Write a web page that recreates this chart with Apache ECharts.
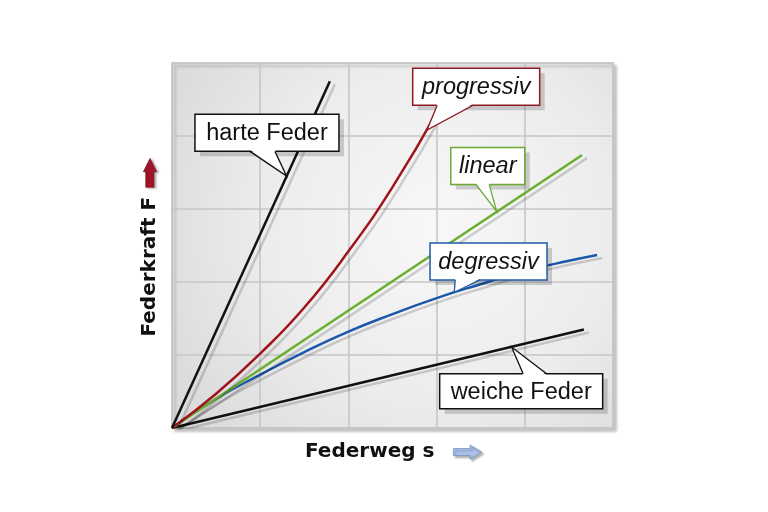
<!DOCTYPE html>
<html>
<head>
<meta charset="utf-8">
<script src="https://cdn.jsdelivr.net/npm/echarts@6/dist/echarts.min.js"></script>
<style>
  html, body { margin: 0; padding: 0; background: #fff; }
  #chart { width: 768px; height: 512px; }
</style>
</head>
<body>
<div id="chart"></div>
<script>
// Federkennlinien: Federkraft F über Federweg s (Einheiten = Rasterfelder)
var hardSpring = [[0, 0], [1.79, 4.75]];
var softSpring = [[0, 0], [4.67, 1.35]];
var linearSpring = [[0, 0], [4.65, 3.74]];
var progressiveSpring = [[0, 0], [0.5, 0.47], [1, 1.02], [1.5, 1.65], [2, 2.42], [2.5, 3.3], [3.01, 4.34]];
var degressiveSpring = [[0, 0], [0.5, 0.40], [1, 0.73], [1.5, 1.04], [2, 1.32], [2.5, 1.56], [3, 1.78],
    [3.5, 1.97], [4, 2.15], [4.5, 2.29], [4.82, 2.37]];

var calloutNames = ['harte Feder', 'progressiv', 'linear', 'degressiv', 'weiche Feder'];
var calloutTips = [[1.30, 3.45], [2.89, 4.08], [3.68, 2.97], [3.20, 1.86], [3.85, 1.11]];

// Layout der Beschriftungskästen (Pixel relativ zur Spitze)
var calloutLayout = [
    { dx: -19.7, dy: -43.3, w: 144, h: 37, base: [-36.7, -11.7], color: '#111', italic: false },
    { dx: 49.3, dy: -43.4, w: 127, h: 37, base: [10.3, 46.3], color: '#8e1a22', italic: true },
    { dx: -8.8, dy: -45.3, w: 74, h: 37, base: [-20.7, -7.4], color: '#6aaa30', italic: true },
    { dx: 34.3, dy: -30.8, w: 117, h: 37, base: [1, 26], color: '#1f5aa8', italic: true },
    { dx: 9.6, dy: 44.2, w: 163, h: 35, base: [11.6, 35], color: '#111', italic: false }
];

var myChart = echarts.init(document.getElementById('chart'));

function springLine(name, data, color) {
    return {
        name: name,
        type: 'line',
        data: data,
        smooth: data.length > 2,
        symbol: 'none',
        silent: true,
        lineStyle: {
            color: color,
            width: 2.5,
            shadowColor: 'rgba(0,0,0,0.17)',
            shadowBlur: 0,
            shadowOffsetX: 5,
            shadowOffsetY: 3
        }
    };
}

function renderCallout(params, api) {
    var i = api.value(2);
    var L = calloutLayout[i];
    var tip = api.coord([api.value(0), api.value(1)]);
    var cx = tip[0] + L.dx, cy = tip[1] + L.dy;
    var edge = L.dy < 0 ? cy + L.h / 2 : cy - L.h / 2;
    var inward = L.dy < 0 ? -1.5 : 1.5;
    var b1 = [tip[0] + L.base[0], edge], b2 = [tip[0] + L.base[1], edge];
    var box = { x: cx - L.w / 2, y: cy - L.h / 2, width: L.w, height: L.h };
    return {
        type: 'group',
        children: [
            {
                type: 'rect',
                shape: { x: box.x + 5, y: box.y + 5, width: box.width, height: box.height },
                style: { fill: 'rgba(0,0,0,0.17)' }
            },
            {
                type: 'rect',
                shape: box,
                style: { fill: '#fff', stroke: L.color, lineWidth: 1.5 }
            },
            {
                type: 'polygon',
                shape: { points: [[b1[0], edge + inward], tip, [b2[0], edge + inward]] },
                style: { fill: '#fff', stroke: null }
            },
            {
                type: 'polyline',
                shape: { points: [b1, tip, b2] },
                style: { fill: null, stroke: L.color, lineWidth: 1.3 }
            },
            {
                type: 'text',
                x: cx, y: cy + 1,
                style: {
                    text: calloutNames[i],
                    fontFamily: 'Liberation Sans, Arial, sans-serif',
                    fontSize: 23.5,
                    fontStyle: L.italic ? 'italic' : 'normal',
                    fill: '#111',
                    align: 'center',
                    verticalAlign: 'middle'
                }
            }
        ]
    };
}

option = {
    backgroundColor: '#fff',
    animation: false,
    grid: {
        left: 172,
        top: 63,
        width: 441,
        height: 365,
        show: true,
        borderColor: '#c2c2c2',
        borderWidth: 1.5,
        shadowColor: 'rgba(0,0,0,0.22)',
        shadowBlur: 3,
        shadowOffsetX: 3,
        shadowOffsetY: 3,
        backgroundColor: {
            type: 'radial', x: 0.6, y: 0.45, r: 0.8,
            colorStops: [
                { offset: 0, color: '#f8f8f8' },
                { offset: 0.6, color: '#ececec' },
                { offset: 1, color: '#dcdcdc' }
            ]
        }
    },
    xAxis: {
        type: 'value',
        min: 0, max: 5, interval: 1,
        axisLine: { show: false },
        axisTick: { show: false },
        axisLabel: { show: false },
        splitLine: { lineStyle: { color: '#c6c6c6', width: 1.6 } }
    },
    yAxis: {
        type: 'value',
        min: 0, max: 5, interval: 1,
        axisLine: { show: false },
        axisTick: { show: false },
        axisLabel: { show: false },
        splitLine: { lineStyle: { color: '#c6c6c6', width: 1.6 } }
    },
    graphic: [
        {
            type: 'text', x: 150, y: 266.7, rotation: Math.PI / 2,
            style: {
                text: 'Federkraft F', fontFamily: 'DejaVu Sans', fontWeight: 'bold', fontSize: 20,
                fill: '#111', align: 'center', verticalAlign: 'middle'
            }
        },
        {
            type: 'polygon',
            shape: { points: [[150, 158.3], [156.7, 171.7], [154, 171.7], [154, 187.3], [145.7, 187.3], [145.7, 171.7], [143.3, 171.7]] },
            style: {
                fill: '#a3162a', stroke: '#7a0f1c', lineWidth: 0.6,
                shadowColor: 'rgba(0,0,0,0.3)', shadowBlur: 2, shadowOffsetX: 2, shadowOffsetY: 1
            }
        },
        {
            type: 'text', x: 305, y: 452,
            style: {
                text: 'Federweg s', fontFamily: 'DejaVu Sans', fontWeight: 'bold', fontSize: 20,
                fill: '#111', align: 'left', verticalAlign: 'middle'
            }
        },
        {
            type: 'polygon',
            shape: { points: [[453.3, 448.5], [470, 448.5], [470, 445], [481.7, 452], [470, 459.3], [470, 455.5], [453.3, 455.5]] },
            style: {
                fill: '#a9c0ea', stroke: '#7d93c2', lineWidth: 0.8,
                shadowColor: 'rgba(0,0,0,0.3)', shadowBlur: 2, shadowOffsetX: 2, shadowOffsetY: 2
            }
        }
    ],
    series: [
        springLine('weiche Feder', softSpring, '#111111'),
        springLine('degressiv', degressiveSpring, '#1c58aa'),
        springLine('linear', linearSpring, '#6aae2e'),
        springLine('progressiv', progressiveSpring, '#a0141e'),
        springLine('harte Feder', hardSpring, '#111111'),
        {
            type: 'custom',
            silent: true,
            clip: false,
            z: 10,
            renderItem: renderCallout,
            data: calloutTips.map(function (t, i) { return [t[0], t[1], i]; })
        }
    ]
};
myChart.setOption(option);
</script>
</body>
</html>
